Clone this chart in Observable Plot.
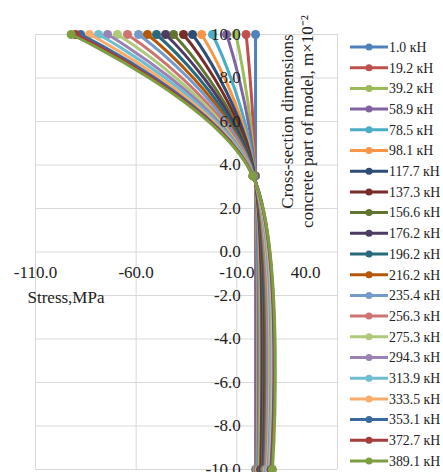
<!DOCTYPE html>
<html>
<head>
<meta charset="utf-8">
<script src="https://cdn.jsdelivr.net/npm/d3@7"></script>
<script src="https://cdn.jsdelivr.net/npm/@observablehq/plot@0.6"></script>
<style>
  html, body { margin: 0; padding: 0; background: #fff; }
  #chart { width: 443px; height: 472px; position: relative; }
</style>
</head>
<body>
<div id="chart"></div>
<script>
// Series (load levels)
const loads = ["1.0","19.2","39.2","58.9","78.5","98.1","117.7","137.3","156.6","176.2","196.2",
               "216.2","235.4","256.3","275.3","294.3","313.9","333.5","353.1","372.7","389.1"];
const colors = ["#4F81BD","#C0504D","#9BBB59","#8064A2","#4BACC6","#F79646",
                "#2C4D75","#772C2A","#5F7530","#4D3B62","#276A7C","#B65708",
                "#729ACA","#CD7371","#AFC97A","#9983B5","#6FBDD1","#F9AB6B",
                "#3B6AA0","#A33E3B","#7D9F41"];
// Stress (MPa) at the three section levels: top (10), middle (3.5), bottom (-10)
const levels = [10, 3.5, -10];
const stressTop = [-0.7, -5.4, -10.5, -15.1, -22.1, -27.5, -32.0, -36.5, -41.4, -45.4, -49.9,
                   -54.4, -58.8, -64.3, -69.3, -74.2, -78.7, -83.2, -87.6, -90.1, -92.3];
const stressMid = [-0.7, -0.8, -0.9, -0.9, -1.0, -1.1, -1.1, -1.2, -1.3, -1.3, -1.4,
                   -1.5, -1.5, -1.6, -1.7, -1.7, -1.8, -1.9, -1.9, -2.0, -2.1];
const stressBot = [-0.7, -0.3, 0.1, 0.5, 0.9, 1.3, 1.8, 2.2, 2.6, 3.0, 3.5,
                   3.9, 4.3, 4.8, 5.2, 5.6, 6.0, 6.5, 6.9, 7.3, 7.7];
const xTicks = [-110, -60, -10, 40];
const yTicks = [10, 8, 6, 4, 2, 0, -2, -4, -6, -8, -10];

const font = "'Liberation Serif', 'Times New Roman', serif";
const txt = {fontSize: 17, fill: "#222", fontFamily: font};

const marks = [
  Plot.gridX(xTicks, {stroke: "#d9d9d9", strokeOpacity: 1, strokeWidth: 1}),
  Plot.gridY(yTicks, {stroke: "#d9d9d9", strokeOpacity: 1, strokeWidth: 1})
];
loads.forEach((l, i) => {
  const pts = levels.map((y, j) => ({y, x: [stressTop, stressMid, stressBot][j][i]}));
  marks.push(Plot.line(pts, {x: "x", y: "y", stroke: colors[i], strokeWidth: 3, curve: "cardinal"}));
  marks.push(Plot.dot(pts, {x: "x", y: "y", fill: colors[i], r: 4.5}));
});
// Y tick labels along the vertical axis at x = -10
marks.push(Plot.text(yTicks, {x: () => -10, y: d => d, text: d => d.toFixed(1),
  textAnchor: "end", dx: 4, ...txt}));
// X tick labels along the horizontal axis at y = 0
const xIn = xTicks.filter(d => d !== 40), xLast = xTicks.filter(d => d === 40);
marks.push(Plot.text(xIn, {x: d => d, y: () => 0, text: d => d.toFixed(1), dy: 21, ...txt}));
marks.push(Plot.text(xLast, {x: d => d, y: () => 0, text: d => d.toFixed(1), dy: 21, dx: -32, ...txt}));
// Axis titles
marks.push(Plot.text(["Stress,MPa"], {frameAnchor: "left", text: d => d, textAnchor: "start",
  dx: -8, dy: 46, ...txt}));
marks.push(Plot.text(["Cross-section dimensions\nconcrete part of model, m×10⁻²"], {
  frameAnchor: "top-right", text: d => d, rotate: -90, textAnchor: "middle", lineAnchor: "middle",
  lineHeight: 1.18, dx: -41, dy: 87, ...txt}));

const chart = Plot.plot({
  width: 443,
  height: 472,
  marginLeft: 35,
  marginRight: 106,
  marginTop: 34,
  marginBottom: 3,
  style: {fontFamily: font, background: "#fff", overflow: "visible"},
  x: {domain: [-110, 40], axis: null},
  y: {domain: [-10, 10], axis: null},
  marks
});
document.getElementById("chart").appendChild(chart);

// Legend
const svg = d3.select(chart);
const lg = svg.append("g").attr("font-family", font).attr("font-size", 13.8)
  .attr("fill", "#222").attr("text-anchor", "start");
loads.forEach((l, i) => {
  const y = 47 + i * 20.7;
  const g = lg.append("g").attr("transform", `translate(0,${y})`);
  g.append("line").attr("x1", 350).attr("x2", 388).attr("y1", 0).attr("y2", 0)
    .attr("stroke", colors[i]).attr("stroke-width", 3);
  g.append("circle").attr("cx", 369).attr("cy", 0).attr("r", 3.5).attr("fill", colors[i]);
  g.append("text").attr("x", 389).attr("y", 0).attr("dy", "0.35em")
    .attr("text-anchor", "start").text(`${l} кН`);
});
</script>
</body>
</html>
